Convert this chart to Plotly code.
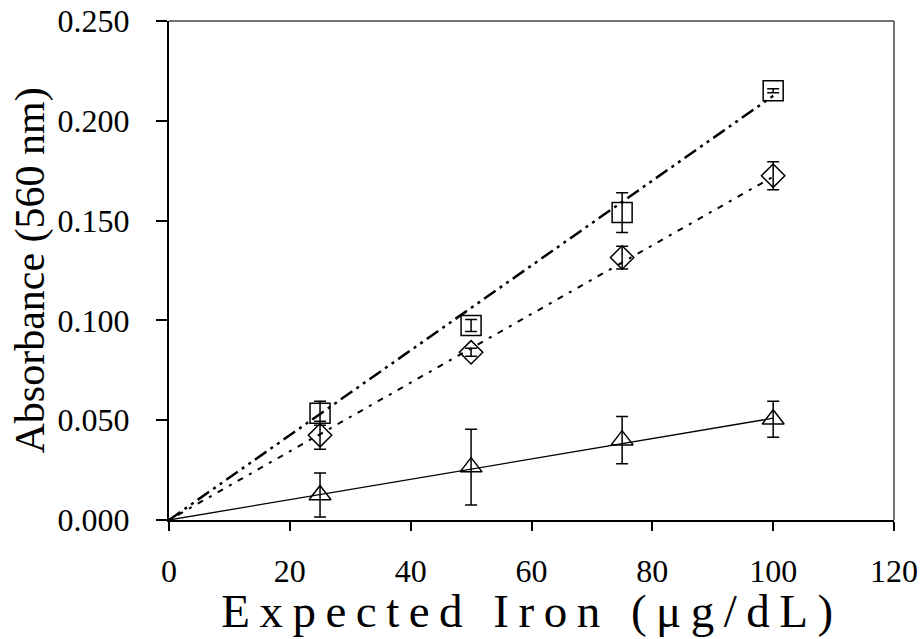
import plotly.graph_objects as go

# ---- data ----
iron = [25, 50, 75, 100]

sq_y = [0.0535, 0.0975, 0.154, 0.215]
sq_err = [0.006, 0.003, 0.010, 0.001]

dia_y = [0.0425, 0.084, 0.1315, 0.1725]
dia_err = [0.007, 0.002, 0.0057, 0.007]

tri_y = [0.0125, 0.0265, 0.040, 0.0505]
tri_err = [0.011, 0.019, 0.0118, 0.009]

fit_x = [0, 100]
sq_fit = [0, 0.2125]
dia_fit = [0, 0.172]
tri_fit = [0, 0.051]

x_ticks = [0, 20, 40, 60, 80, 100, 120]
y_ticks = [0.0, 0.05, 0.10, 0.15, 0.20, 0.25]

x_title = "Expected Iron (μg/dL)"
y_title = "Absorbance (560 nm)"

FONT = "Liberation Serif"

fig = go.Figure()

# trend lines
fig.add_trace(go.Scatter(x=fit_x, y=sq_fit, mode="lines",
                         line=dict(color="black", width=2.5, dash="14px,5px,3px,5px,3px,5px"),
                         showlegend=False, hoverinfo="skip"))
fig.add_trace(go.Scatter(x=fit_x, y=dia_fit, mode="lines",
                         line=dict(color="black", width=2, dash="3px,7px,6px,7px"),
                         showlegend=False, hoverinfo="skip"))
fig.add_trace(go.Scatter(x=fit_x, y=tri_fit, mode="lines",
                         line=dict(color="black", width=1.3),
                         showlegend=False, hoverinfo="skip"))

def pts(y, err, sym, size):
    return go.Scatter(
        x=iron, y=y, mode="markers",
        marker=dict(symbol=sym, size=size, color="black",
                    line=dict(color="black", width=1.5)),
        error_y=dict(type="data", array=err, visible=True, color="black",
                     thickness=1.5, width=6),
        showlegend=False)

fig.add_trace(pts(sq_y, sq_err, "square-open", 20))
fig.add_trace(pts(dia_y, dia_err, "diamond-open", 18))
fig.add_trace(pts(tri_y, tri_err, "triangle-up-open", 19))

fig.update_layout(
    width=923, height=639,
    margin=dict(l=169, r=29, t=21, b=119),
    paper_bgcolor="white", plot_bgcolor="white",
    font=dict(family=FONT, color="black"),
    shapes=[
        dict(type="line", xref="paper", yref="paper", x0=0, x1=1, y0=1, y1=1,
             line=dict(color="#444", width=1.5)),
        dict(type="line", xref="paper", yref="paper", x0=1, x1=1, y0=0, y1=1,
             line=dict(color="#444", width=1.5)),
    ],
    annotations=[
        dict(text=x_title, xref="paper", yref="paper", x=0.5, y=-0.1824,
             xanchor="center", yanchor="middle", showarrow=False,
             font=dict(family=FONT, size=47, color="black")),
        dict(text=y_title, xref="paper", yref="paper", x=-0.1917, y=0.5,
             xanchor="center", yanchor="middle", showarrow=False, textangle=-90,
             font=dict(family=FONT, size=42, color="black")),
    ],
)
fig.update_xaxes(
    range=[0, 120], tickvals=x_ticks, ticktext=[str(v) for v in x_ticks],
    showgrid=False, zeroline=False, showline=True, linecolor="black", linewidth=2,
    ticks="outside", ticklen=9, tickwidth=1.5, tickcolor="black",
    tickfont=dict(family=FONT, size=32), ticklabelstandoff=13, automargin=False,
    ticklabeloverflow="allow",
)
fig.update_yaxes(
    range=[0, 0.25], tickvals=y_ticks, ticktext=[f"{v:.3f}" for v in y_ticks],
    showgrid=False, zeroline=False, showline=True, linecolor="black", linewidth=2,
    ticks="outside", ticklen=11, tickwidth=1.5, tickcolor="black",
    tickfont=dict(family=FONT, size=32), ticklabelstandoff=20, automargin=False,
    ticklabeloverflow="allow",
)

post_js = """
(function(){
  document.body.style.margin = '0';
  function sp(){
    var gd = document.getElementById('{plot_id}');
    if (!gd) return;
    var t = gd.querySelector('.annotation[data-index="0"] .annotation-text');
    if (t) { t.style.letterSpacing = '9.5px'; }
  }
  sp();
  setTimeout(sp, 0);
})();
"""

fig.write_html("out.html", post_script=post_js, config={"displayModeBar": False})
